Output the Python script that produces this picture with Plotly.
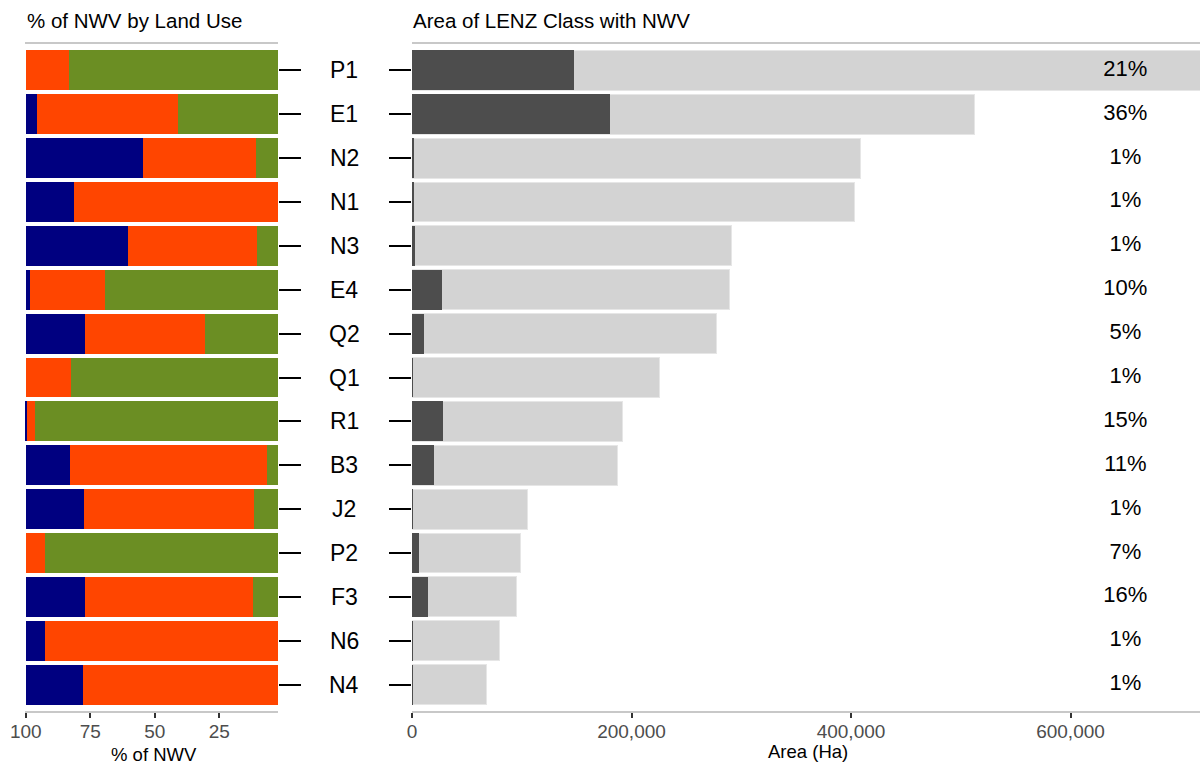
import plotly.graph_objects as go

# ---- data ----
classes = ["P1", "E1", "N2", "N1", "N3", "E4", "Q2", "Q1", "R1", "B3", "J2", "P2", "F3", "N6", "N4"]

# % of NWV by land use (three land-use groups, left to right)
use_navy = [0, 4.3, 45.3, 18.8, 39.5, 1.8, 23.1, 0, 0.3, 17.1, 22.5, 0, 23.0, 7.6, 22.2]
use_orange = [16.9, 54.6, 43.8, 81.2, 50.2, 29.1, 46.4, 17.7, 3.3, 76.4, 66.0, 7.5, 65.1, 92.4, 77.8]
use_green = [83.1, 41.1, 10.9, 0, 10.3, 69.1, 30.5, 82.3, 96.4, 6.5, 11.5, 92.5, 11.9, 0, 0]

# Area of LENZ class (Ha) and area with NWV (Ha)
area_total = [725000, 512700, 408200, 403000, 291300, 288900, 277000, 225300,
              191400, 186800, 105400, 99000, 95400, 79500, 68300]
area_nwv = [147600, 180700, 1500, 1000, 2700, 27600, 11200, 500,
            28000, 19800, 500, 6700, 14300, 200, 500]
pct_labels = ["21%", "36%", "1%", "1%", "1%", "10%", "5%", "1%",
              "15%", "11%", "1%", "7%", "16%", "1%", "1%"]

left_ticks = [100, 75, 50, 25]
right_ticks = [0, 200000, 400000, 600000]

FONT = "Liberation Sans, Arial, sans-serif"
W, H = 1200, 765

fig = go.Figure()

# left panel: stacked (reversed axis, navy at the 100 end)
for vals, col, name in [(use_green, "#6B8E23", "Land use C"),
                        (use_orange, "#FF4500", "Land use B"),
                        (use_navy, "#000080", "Land use A")]:
    fig.add_trace(go.Bar(y=classes, x=vals, orientation="h", marker_color=col,
                         marker_line_width=0, name=name, xaxis="x", yaxis="y",
                         showlegend=False))

# right panel: total area (light) with NWV area (dark) overlaid on a twin axis
fig.add_trace(go.Bar(y=classes, x=area_total, orientation="h", marker_color="#D3D3D3",
                     marker_line=dict(color="#E6E6E6", width=1),
                     name="Area", xaxis="x2", yaxis="y2", showlegend=False))
fig.add_trace(go.Bar(y=classes, x=area_nwv, orientation="h", marker_color="#4D4D4D",
                     marker_line_width=0,
                     name="NWV area", xaxis="x3", yaxis="y2", showlegend=False))
fig.add_trace(go.Scatter(y=classes, x=[650000] * len(classes), text=pct_labels,
                         mode="text", textfont=dict(size=22, color="black", family=FONT),
                         xaxis="x2", yaxis="y2", showlegend=False, hoverinfo="skip",
                         cliponaxis=False))

ydom = [(H - 711) / H, (H - 44) / H]
yrange = [len(classes) - 0.4, -0.6]
xl_dom = [25 / W, 278 / W]
xr_dom = [412 / W, 1.0]

axis_common = dict(showgrid=False, zeroline=False, showline=True, mirror=True,
                   linecolor="#C8C8C8", linewidth=1.5, ticks="outside", ticklen=5,
                   tickwidth=1.5, tickcolor="#333333", automargin=False,
                   ticklabelstandoff=-3,
                   tickfont=dict(size=19, color="#4D4D4D", family=FONT))
yaxis_common = dict(type="category", showticklabels=False, ticks="outside", ticklen=22,
                    tickwidth=2, tickcolor="black", showgrid=False, zeroline=False,
                    showline=False, automargin=False)

fig.update_layout(
    width=W, height=H, margin=dict(l=0, r=0, t=0, b=0, pad=0, autoexpand=False),
    paper_bgcolor="white", plot_bgcolor="white",
    barmode="stack", bargap=0.09,
    font=dict(family=FONT),
    xaxis=dict(domain=xl_dom, range=[100.3, 2.2], tickvals=left_ticks,
               anchor="y", **axis_common),
    yaxis=dict(domain=ydom, range=yrange, side="right", anchor="x", **yaxis_common),
    xaxis2=dict(domain=xr_dom, range=[0, 718000], tickvals=right_ticks,
                tickformat=",", anchor="y2", **axis_common),
    xaxis3=dict(overlaying="x2", matches="x2", visible=False, anchor="y2"),
    yaxis2=dict(domain=ydom, range=yrange, side="left", anchor="x2", **yaxis_common),
)

annotations = [
    dict(text="% of NWV by Land Use", x=25 / W, y=(H - 20) / H, xref="paper", yref="paper",
         xanchor="left", yanchor="middle", showarrow=False,
         font=dict(size=20.5, color="black", family=FONT)),
    dict(text="Area of LENZ Class with NWV", x=411 / W, y=(H - 20) / H, xref="paper",
         yref="paper", xanchor="left", yanchor="middle", showarrow=False,
         font=dict(size=20.5, color="black", family=FONT)),
    dict(text="% of NWV", x=154 / W, y=(H - 754) / H, xref="paper", yref="paper",
         xanchor="center", yanchor="middle", showarrow=False,
         font=dict(size=18.5, color="black", family=FONT)),
    dict(text="Area (Ha)", x=808 / W, y=(H - 751) / H, xref="paper", yref="paper",
         xanchor="center", yanchor="middle", showarrow=False,
         font=dict(size=18.5, color="black", family=FONT)),
]
for c in classes:
    annotations.append(dict(text=c, x=344 / W, y=c, xref="paper", yref="y2",
                            xanchor="center", yanchor="middle", showarrow=False,
                            font=dict(size=23, color="black", family=FONT)))
fig.update_layout(annotations=annotations)

fig.write_html(
    "out.html",
    config={"responsive": False, "displayModeBar": False},
    post_script="document.body.style.margin='0';document.body.style.overflow='hidden';",
)
